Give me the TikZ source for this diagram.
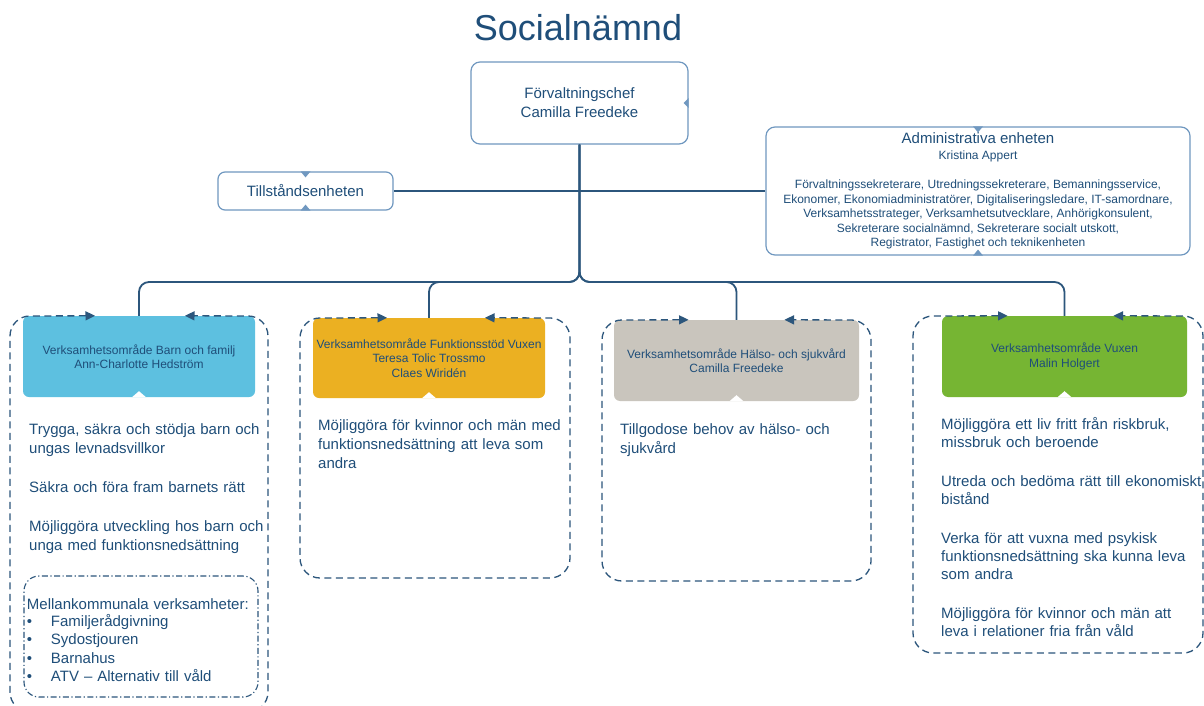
\documentclass[tikz,border=0pt]{standalone}
\usepackage{xcolor}
\usepackage{tikz}
\usepackage{fontspec}
\setmainfont{Liberation Sans}
\usetikzlibrary{arrows.meta}
\newcommand{\besmall}{\fontsize{12pt}{14.5pt}\selectfont}
\newcommand{\bebody}{\fontsize{15pt}{19pt}\selectfont}
\newcommand{\betitle}{\fontsize{36pt}{40pt}\selectfont}

\definecolor{orgtext}{RGB}{31,78,121}
\definecolor{orgline}{RGB}{44,86,124}
\definecolor{orgframe}{RGB}{112,152,192}
\definecolor{barnfill}{RGB}{93,192,224}
\definecolor{funkfill}{RGB}{235,176,34}
\definecolor{halsofill}{RGB}{201,197,189}
\definecolor{vuxenfill}{RGB}{118,181,51}

\tikzset{
  unitbox/.style={draw=orgframe, line width=1.2pt, rounded corners=9pt, fill=white,
    text=orgtext, align=center, inner sep=2pt},
  areabox/.style={rounded corners=6pt, text=orgtext, align=center, font=\besmall,
    minimum width=232pt, minimum height=81pt, inner sep=1pt},
  conn/.style={draw=orgline, line width=1.8pt, rounded corners=10pt},
  areaframe/.style={draw=orgline, line width=1.3pt, dash pattern=on 7pt off 4.5pt,
    rounded corners=20pt, {Triangle[length=9.5pt,width=9pt]}-{Triangle[length=9.5pt,width=9pt]}},
  goaltext/.style={anchor=base west, align=left, text=orgtext, font=\bebody,
    text width=265pt, inner sep=0pt},
  notch/.style={fill=orgframe, draw=none},
}

\begin{document}
\begin{tikzpicture}[x=1pt, y=-1pt]
                \useasboundingbox (0,0) rectangle (1204,706);
                \fill[white] (0,0) rectangle (1204,706);
                \clip (0,0) rectangle (1204,706);

                % Top level
                \node[text=orgtext, font=\betitle] (title) at (578,28) {Socialnämnd};
                \node[unitbox, font=\bebody, minimum width=217pt, minimum height=82pt]
                    (chef) at (579.5,103) {Förvaltningschef\\Camilla Freedeke};

                % Staff units
                \node[unitbox, font=\bebody, minimum width=175pt, minimum height=38pt, rounded corners=7pt]
                    (tillstand) at (305.5,191) {Tillståndsenheten};
                \node[unitbox, font=\besmall, minimum width=424pt, minimum height=128pt]
                    (admin) at (978,191)
                    {{\fontsize{15pt}{16pt}\selectfont Administrativa enheten}\\[1.5pt]
                     Kristina Appert\\[14.5pt]
                     Förvaltningssekreterare, Utredningssekreterare, Bemanningsservice,\\
                     Ekonomer, Ekonomiadministratörer, Digitaliseringsledare, IT-samordnare,\\
                     Verksamhetsstrateger, Verksamhetsutvecklare, Anhörigkonsulent,\\
                     Sekreterare socialnämnd, Sekreterare socialt utskott,\\
                     Registrator, Fastighet och teknikenheten};

                % Areas
                \node[areabox, fill=barnfill] (barn) at (139,356.5)
                    {Verksamhetsområde Barn och familj\\Ann-Charlotte Hedström};
                \node[areabox, fill=funkfill, minimum height=80pt] (funk) at (429,358)
                    {Verksamhetsområde Funktionsstöd Vuxen\\Teresa Tolic Trossmo\\Claes Wiridén};
                \node[areabox, fill=halsofill, minimum width=245pt] (halso) at (736.5,360.5)
                    {Verksamhetsområde Hälso- och sjukvård\\Camilla Freedeke};
                \node[areabox, fill=vuxenfill, minimum width=245pt] (vuxen) at (1064.5,356.5)
                    {Verksamhetsområde Vuxen\\Malin Holgert};

                % Connectors
                \coordinate (bus) at (579.5,282);
                \draw[conn, sharp corners] (chef.south) |- (tillstand.east);
                \draw[conn, sharp corners] (chef.south) |- (admin.west);
                \draw[conn] (chef.south) -- (bus) -| (barn.north);
                \draw[conn] (chef.south) -- (bus) -| (funk.north);
                \draw[conn] (chef.south) -- (bus) -| (halso.north);
                \draw[conn] (chef.south) -- (bus) -| (vuxen.north);

                % Notches
                \fill[notch] ([yshift=5pt]chef.east) -- ([xshift=-5pt]chef.east) -- ([yshift=-5pt]chef.east) -- cycle;
                \fill[notch] ([xshift=-5pt]admin.north) -- ([yshift=-6pt]admin.north) -- ([xshift=5pt]admin.north) -- cycle;
                \fill[notch] ([xshift=-5pt]admin.south) -- ([yshift=6pt]admin.south) -- ([xshift=5pt]admin.south) -- cycle;
                \fill[notch] ([xshift=-5pt]tillstand.north) -- ([yshift=-6pt]tillstand.north) -- ([xshift=5pt]tillstand.north) -- cycle;
                \fill[notch] ([xshift=-5pt]tillstand.south) -- ([yshift=6pt]tillstand.south) -- ([xshift=5pt]tillstand.south) -- cycle;
                \foreach \area in {barn,funk,halso,vuxen}
                    \fill[white] ([xshift=-7pt]\area.south) -- ([yshift=6pt]\area.south) -- ([xshift=7pt]\area.south) -- cycle;

                % Dashed frames
                \draw[areaframe] ([xshift=-44pt]barn.north) -- (10,316) -- (10,712) -- (268,712) -- (268,316) -- ([xshift=46pt]barn.north);
                \draw[areaframe] ([xshift=-42pt]funk.north) -- (300,318) -- (300,578) -- (570,578) -- (570,318) -- ([xshift=56pt]funk.north);
                \draw[areaframe] ([xshift=-48pt]halso.north) -- (602,320) -- (602,581) -- (871,581) -- (871,320) -- ([xshift=48pt]halso.north);
                \draw[areaframe] ([xshift=-57pt]vuxen.north) -- (913,316) -- (913,653) -- (1203,653) -- (1203,316) -- ([xshift=49pt]vuxen.north);

                % Goals
                \node[goaltext] (barngoal) at (29,434.5)
                    {Trygga, säkra och stödja barn och\\ungas levnadsvillkor\\[20pt]
                     Säkra och föra fram barnets rätt\\[20pt]
                     Möjliggöra utveckling hos barn och\\unga med funktionsnedsättning};
                \node[draw=orgline, line width=1.1pt, dash pattern=on 6pt off 2.5pt on 1.2pt off 2.5pt,
                    rounded corners=15pt, text=orgtext, align=left, text width=228pt, inner sep=3pt,
                    minimum height=121pt, font=\fontsize{15pt}{18.5pt}\selectfont]
                    (mellan) at (141,636.5)
                    {\rule{0pt}{18pt}Mellankommunala verksamheter:\\[-1.5pt]
                     \makebox[24pt][l]{\textbullet}Familjerådgivning\\
                     \makebox[24pt][l]{\textbullet}Sydostjouren\\
                     \makebox[24pt][l]{\textbullet}Barnahus\\
                     \makebox[24pt][l]{\textbullet}ATV – Alternativ till våld};
                \node[goaltext] (funkgoal) at (318,430.5)
                    {Möjliggöra för kvinnor och män med\\funktionsnedsättning att leva som\\andra};
                \node[goaltext] (halsogoal) at (620,434.5)
                    {Tillgodose behov av hälso- och\\sjukvård};
                \node[goaltext, font=\fontsize{15pt}{18pt}\selectfont] (vuxengoal) at (941,429)
                    {Möjliggöra ett liv fritt från riskbruk,\\missbruk och beroende\\[21pt]
                     Utreda och bedöma rätt till ekonomiskt\\bistånd\\[21pt]
                     Verka för att vuxna med psykisk\\funktionsnedsättning ska kunna leva\\som andra\\[21pt]
                     Möjliggöra för kvinnor och män att\\leva i relationer fria från våld};
\end{tikzpicture}
\end{document}
